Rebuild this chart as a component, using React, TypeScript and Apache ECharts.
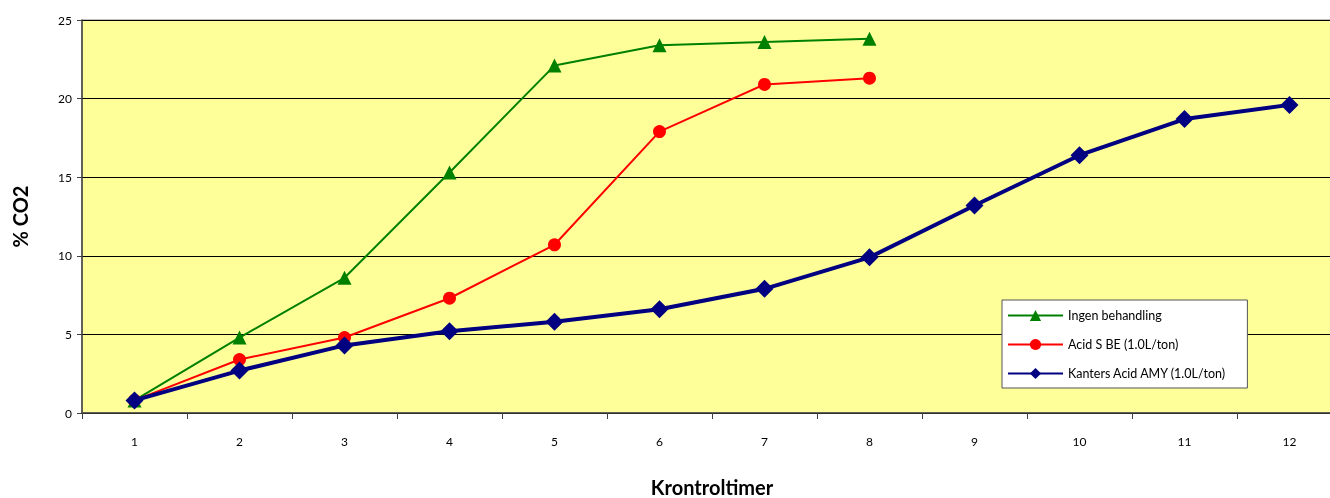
import React, { useEffect, useRef } from "react";
import * as echarts from "echarts";

const categories = ["1", "2", "3", "4", "5", "6", "7", "8", "9", "10", "11", "12"];
const ingen = [0.8, 4.8, 8.6, 15.3, 22.1, 23.4, 23.6, 23.8];
const acidS = [0.8, 3.4, 4.8, 7.3, 10.7, 17.9, 20.9, 21.3];
const kanters = [0.8, 2.7, 4.3, 5.2, 5.8, 6.6, 7.9, 9.9, 13.2, 16.4, 18.7, 19.6];
const seriesNames = ["Ingen behandling", "Acid S BE (1.0L/ton)", "Kanters Acid AMY (1.0L/ton)"];

const FONT = "Lato, 'Open Sans', sans-serif";

export default function App() {
  const ref = useRef<HTMLDivElement>(null);
  useEffect(() => {
    if (!ref.current) return;
    const chart = echarts.init(ref.current, null, { renderer: "svg" });
    chart.setOption({
      animation: false,
      textStyle: { fontFamily: FONT },
      grid: {
        left: 82,
        top: 20,
        width: 1260,
        height: 393,
        outerBoundsMode: "none",
        containLabel: false,
        show: true,
        backgroundColor: "#FFFF99",
        borderColor: "#808080",
        borderWidth: 1,
      },
      legend: {
        orient: "vertical",
        left: 1002,
        top: 300,
        backgroundColor: "#FFFFFF",
        borderColor: "#555555",
        borderWidth: 1,
        padding: [9, 21, 8, 5],
        itemGap: 16,
        itemWidth: 55,
        itemHeight: 14,
        textStyle: { fontFamily: FONT, fontSize: 12.5, color: "#000" },
        data: seriesNames,
      },
      xAxis: {
        type: "category",
        data: categories,
        boundaryGap: true,
        name: "Krontroltimer",
        nameLocation: "middle",
        nameGap: 64,
        nameTextStyle: { fontFamily: FONT, fontSize: 20, fontWeight: "bold", color: "#000" },
        axisLine: { lineStyle: { color: "#404040", width: 1.5 } },
        axisTick: { show: true, length: 6, interval: 0, lineStyle: { color: "#404040" } },
        axisLabel: { fontSize: 12, color: "#000", margin: 22, fontFamily: FONT },
        splitLine: { show: false },
      },
      yAxis: {
        type: "value",
        min: 0,
        max: 25,
        interval: 5,
        name: "% CO2",
        nameLocation: "middle",
        nameGap: 52,
        nameRotate: 90,
        nameTextStyle: { fontFamily: FONT, fontSize: 20, fontWeight: "bold", color: "#000" },
        axisLine: { show: true, lineStyle: { color: "#404040", width: 1.5 } },
        axisTick: { show: true, length: 5, lineStyle: { color: "#404040" } },
        axisLabel: { fontSize: 12, color: "#000", margin: 10, fontFamily: FONT },
        splitLine: { show: true, lineStyle: { color: "#000", width: 1 } },
      },
      series: [
        {
          name: seriesNames[0],
          type: "line",
          data: ingen,
          symbol: "triangle",
          symbolSize: 14,
          lineStyle: { color: "#008000", width: 2 },
          itemStyle: { color: "#008000" },
          z: 3,
        },
        {
          name: seriesNames[1],
          type: "line",
          data: acidS,
          symbol: "circle",
          symbolSize: 13,
          lineStyle: { color: "#FF0000", width: 2 },
          itemStyle: { color: "#FF0000" },
          z: 4,
        },
        {
          name: seriesNames[2],
          type: "line",
          data: kanters,
          symbol: "diamond",
          symbolSize: 18,
          lineStyle: { color: "#000080", width: 4 },
          itemStyle: { color: "#000080" },
          z: 5,
        },
      ],
    });
    return () => chart.dispose();
  }, []);
  return (
    <div
      ref={ref}
      style={{ position: "fixed", left: 0, top: 0, width: 1330, height: 498 }}
    />
  );
}
